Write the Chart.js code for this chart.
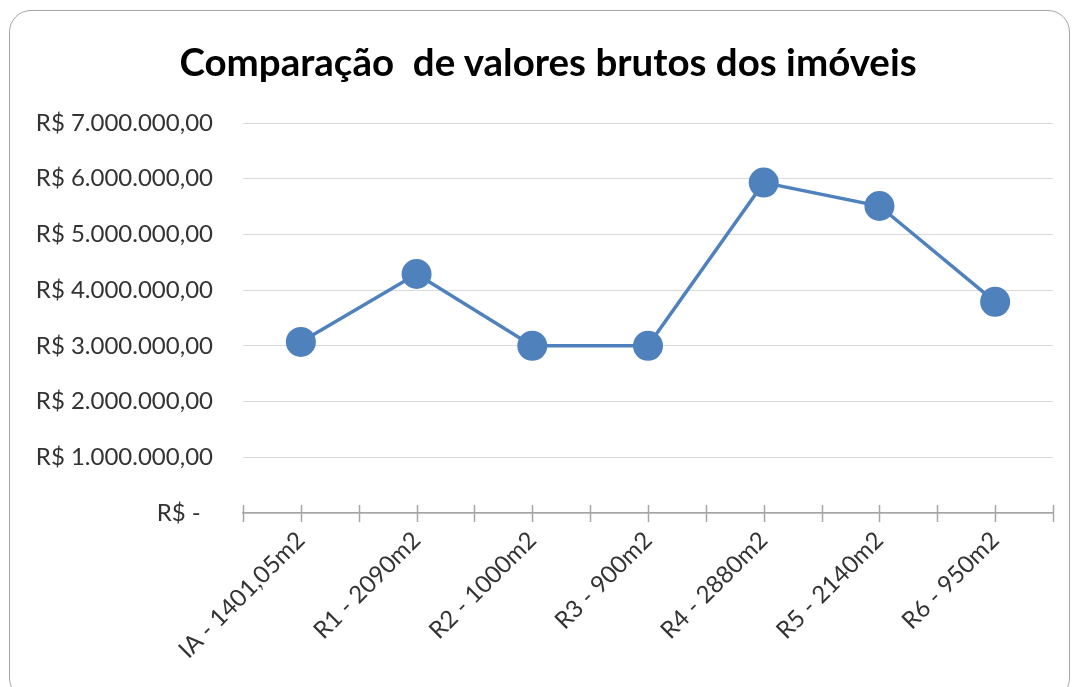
<!DOCTYPE html>
<html>
<head>
<meta charset="utf-8">
<script src="https://cdn.jsdelivr.net/npm/chart.js@4/dist/chart.umd.min.js"></script>
<style>
    html, body { margin: 0; padding: 0; background: #fff; overflow: hidden; }
    #frame {
        position: absolute; left: 9px; top: 10px; width: 1061px; height: 690px;
        border: 1px solid #a6a6a6; border-radius: 22px; box-sizing: border-box;
    }
    #wrap { position: absolute; left: 0; top: 0; width: 1072px; height: 687px; }
    #title {
        position: absolute; left: 0; top: 38px; width: 1096px; height: 46px;
        line-height: 46px; text-align: center; white-space: pre;
        font-family: Lato, sans-serif; font-weight: bold; font-size: 38.5px; color: #000;
    }
</style>
</head>
<body>
<div id="frame"></div>
<div id="wrap"><canvas id="chart" width="1072" height="687"></canvas></div>
<div id="title"></div>
<script>
const chartTitle = 'Comparação  de valores brutos dos imóveis';
const categories = ['IA - 1401,05m2', 'R1 - 2090m2', 'R2 - 1000m2', 'R3 - 900m2', 'R4 - 2880m2', 'R5 - 2140m2', 'R6 - 950m2'];
const grossValues = [3070000, 4290000, 3000000, 3000000, 5930000, 5510000, 3790000];
const yTicks = [0, 1000000, 2000000, 3000000, 4000000, 5000000, 6000000, 7000000];

const textColor = '#333333';
const lineColor = '#4f81bd';

document.getElementById('title').textContent = chartTitle;

function formatBRL(v) {
    if (v === 0) return 'R$ -  ';
    const s = Math.round(v).toString().replace(/\B(?=(\d{3})+(?!\d))/g, '.');
    return 'R$ ' + s + ',00';
}

// Excel draws tick marks at category boundaries and centres, crossing the axis line
const crossTicks = {
    id: 'crossTicks',
    afterDatasetsDraw(chart) {
        const x = chart.scales.x;
        const y0 = chart.scales.y.getPixelForValue(0);
        const ctx = chart.ctx;
        ctx.save();
        ctx.strokeStyle = '#a6a6a6';
        ctx.lineWidth = 1.5;
        ctx.beginPath();
        for (let i = -0.5; i <= categories.length - 0.5; i += 0.5) {
            const px = Math.round(x.getPixelForValue(i)) + 0.5;
            ctx.moveTo(px, y0 - 8);
            ctx.lineTo(px, y0 + 9);
        }
        ctx.stroke();
        ctx.restore();
    }
};

const ctx = document.getElementById('chart').getContext('2d');
new Chart(ctx, {
    type: 'line',
    data: {
        labels: categories,
        datasets: [{
            data: grossValues,
            borderColor: lineColor,
            backgroundColor: lineColor,
            borderWidth: 3.5,
            pointRadius: 15,
            pointHoverRadius: 15,
            pointBorderWidth: 0,
            tension: 0
        }]
    },
    options: {
        responsive: false,
        animation: false,
        events: [],
        layout: { padding: { left: 0, right: 19, top: 123, bottom: 0 } },
        plugins: {
            legend: { display: false },
            tooltip: { enabled: false },
            title: { display: false }
        },
        scales: {
            x: {
                offset: true,
                afterFit: scale => { scale.height = 174; },
                grid: { display: false, drawTicks: false },
                border: { display: true, color: '#a6a6a6', width: 1.5 },
                ticks: {
                    color: textColor,
                    font: { family: 'Lato', size: 24 },
                    minRotation: 45,
                    maxRotation: 45,
                    padding: 13,
                    autoSkip: false
                }
            },
            y: {
                min: 0,
                max: 7000000,
                afterFit: scale => { scale.width = 243; },
                afterBuildTicks: scale => { scale.ticks = yTicks.map(v => ({ value: v })); },
                grid: { color: '#d9d9d9', lineWidth: 1, drawTicks: false },
                border: { display: false },
                ticks: {
                    color: textColor,
                    font: { family: 'Lato', size: 24 },
                    padding: 30,
                    callback: v => formatBRL(v)
                }
            }
        }
    },
    plugins: [crossTicks]
});
</script>
</body>
</html>
